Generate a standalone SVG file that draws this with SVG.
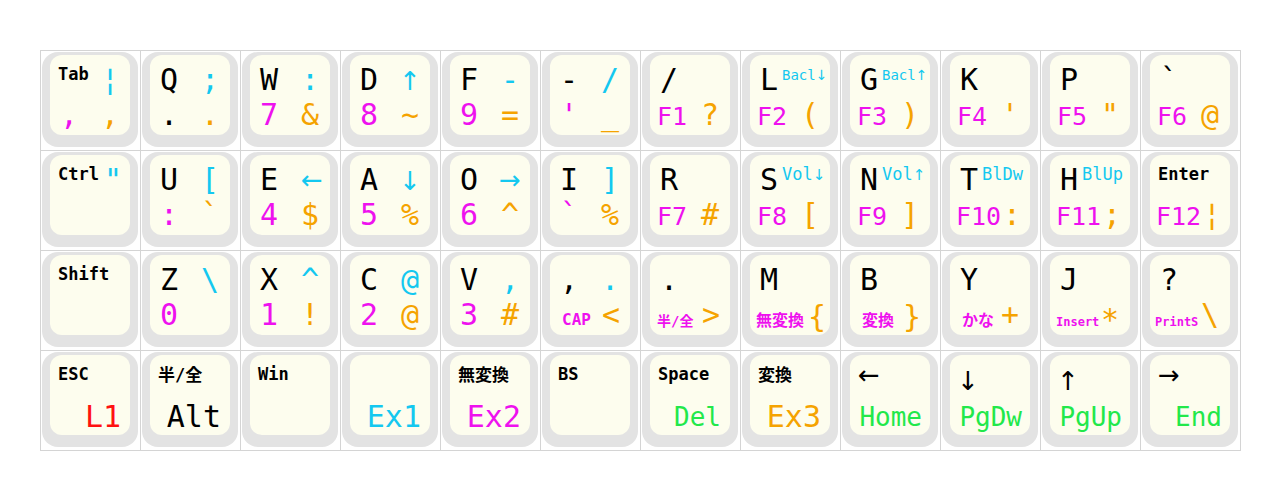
<svg xmlns="http://www.w3.org/2000/svg" xmlns:xlink="http://www.w3.org/1999/xlink" width="1280" height="500" viewBox="0 0 1280 500">
<style>
text{font-family:"DejaVu Sans Mono","Noto Sans CJK JP",monospace;}
.m{font-size:30px;fill:#000}
.tr{font-size:30px;fill:#14c8f0;text-anchor:middle}
.bl{font-size:30px;fill:#ee11ee}
.br{font-size:30px;fill:#f5a300;text-anchor:middle}
.f{font-size:25px;fill:#ee11ee}
.s{font-size:17px;font-weight:bold;fill:#000}
.sc{fill:#14c8f0}
.sm{font-weight:bold;fill:#ee11ee}
.e{font-size:30px;text-anchor:end}
.g{font-size:26px;text-anchor:end;fill:#22e84a}
.va{font-family:"DejaVu Sans",sans-serif;font-size:26px}
.grid{stroke:#d4d4d4;stroke-width:1;fill:none}
</style>
<defs>
<g id="cap">
<rect x="2" y="2" width="96" height="95" rx="16" fill="#e3e3e3"/>
<rect x="10" y="5" width="80" height="80" rx="12" fill="#fdfdee"/>
</g>
</defs>
<rect width="1280" height="500" fill="#fff"/>
<g class="grid">
<rect x="40.5" y="50.5" width="1200" height="400"/>
<path d="M140.5 50V450M240.5 50V450M340.5 50V450M440.5 50V450M540.5 50V450M640.5 50V450M740.5 50V450M840.5 50V450M940.5 50V450M1040.5 50V450M1140.5 50V450M40 150.5H1240M40 250.5H1240M40 350.5H1240"/>
</g>

<!-- Row 0 -->
<g id="k-tab" transform="translate(40,50)"><use href="#cap"/><text class="s" x="18" y="30">Tab</text><text class="tr" x="70" y="40">¦</text><text class="bl" x="20" y="75">,</text><text class="br" x="70" y="75">,</text></g>
<g id="k-q" transform="translate(140,50)"><use href="#cap"/><text class="m" x="20" y="40">Q</text><text class="tr" x="70" y="40">;</text><text class="m" x="20" y="75">.</text><text class="br" x="70" y="75">.</text></g>
<g id="k-w" transform="translate(240,50)"><use href="#cap"/><text class="m" x="20" y="40">W</text><text class="tr" x="70" y="40">:</text><text class="bl" x="20" y="75">7</text><text class="br" x="70" y="75">&amp;</text></g>
<g id="k-d" transform="translate(340,50)"><use href="#cap"/><text class="m" x="20" y="40">D</text><text class="tr va" x="70" y="40">↑</text><text class="bl" x="20" y="75">8</text><text class="br" x="70" y="75">~</text></g>
<g id="k-f" transform="translate(440,50)"><use href="#cap"/><text class="m" x="20" y="40">F</text><text class="tr" x="70" y="40">-</text><text class="bl" x="20" y="75">9</text><text class="br" x="70" y="75">=</text></g>
<g id="k-minus" transform="translate(540,50)"><use href="#cap"/><text class="m" x="20" y="40">-</text><text class="tr" x="70" y="40">/</text><text class="bl" x="20" y="75">'</text><text class="br" x="70" y="75">_</text></g>
<g id="k-slash" transform="translate(640,50)"><use href="#cap"/><text class="m" x="20" y="40">/</text><text class="f" x="17" y="75">F1</text><text class="br" x="70" y="75">?</text></g>
<g id="k-l" transform="translate(740,50)"><use href="#cap"/><text class="m" x="20" y="40">L</text><text class="sc" x="42" y="30" font-size="14">Bacl<tspan font-family="DejaVu Sans">↓</tspan></text><text class="f" x="17" y="75">F2</text><text class="br" x="70" y="75">(</text></g>
<g id="k-g" transform="translate(840,50)"><use href="#cap"/><text class="m" x="20" y="40">G</text><text class="sc" x="42" y="30" font-size="14">Bacl<tspan font-family="DejaVu Sans">↑</tspan></text><text class="f" x="17" y="75">F3</text><text class="br" x="70" y="75">)</text></g>
<g id="k-k" transform="translate(940,50)"><use href="#cap"/><text class="m" x="20" y="40">K</text><text class="f" x="17" y="75">F4</text><text class="br" x="70" y="75">'</text></g>
<g id="k-p" transform="translate(1040,50)"><use href="#cap"/><text class="m" x="20" y="40">P</text><text class="f" x="17" y="75">F5</text><text class="br" x="70" y="75">"</text></g>
<g id="k-grave" transform="translate(1140,50)"><use href="#cap"/><text class="m" x="20" y="40">`</text><text class="f" x="17" y="75">F6</text><text class="br" x="70" y="75">@</text></g>

<!-- Row 1 -->
<g id="k-ctrl" transform="translate(40,150)"><use href="#cap"/><text class="s" x="18" y="30">Ctrl</text><text class="tr" x="73" y="40">"</text></g>
<g id="k-u" transform="translate(140,150)"><use href="#cap"/><text class="m" x="20" y="40">U</text><text class="tr" x="70" y="40">[</text><text class="bl" x="20" y="75">:</text><text class="br" x="70" y="75">`</text></g>
<g id="k-e" transform="translate(240,150)"><use href="#cap"/><text class="m" x="20" y="40">E</text><text class="tr va" x="72" y="39">←</text><text class="bl" x="20" y="75">4</text><text class="br" x="70" y="75">$</text></g>
<g id="k-a" transform="translate(340,150)"><use href="#cap"/><text class="m" x="20" y="40">A</text><text class="tr va" x="70" y="40">↓</text><text class="bl" x="20" y="75">5</text><text class="br" x="70" y="75">%</text></g>
<g id="k-o" transform="translate(440,150)"><use href="#cap"/><text class="m" x="20" y="40">O</text><text class="tr va" x="70" y="39">→</text><text class="bl" x="20" y="75">6</text><text class="br" x="70" y="75">^</text></g>
<g id="k-i" transform="translate(540,150)"><use href="#cap"/><text class="m" x="20" y="40">I</text><text class="tr" x="70" y="40">]</text><text class="bl" x="20" y="75">`</text><text class="br" x="70" y="75">%</text></g>
<g id="k-r" transform="translate(640,150)"><use href="#cap"/><text class="m" x="20" y="40">R</text><text class="f" x="17" y="75">F7</text><text class="br" x="70" y="75">#</text></g>
<g id="k-s" transform="translate(740,150)"><use href="#cap"/><text class="m" x="20" y="40">S</text><text class="sc" x="42" y="30" font-size="17">Vol<tspan font-family="DejaVu Sans" font-size="15">↓</tspan></text><text class="f" x="17" y="75">F8</text><text class="br" x="70" y="75">[</text></g>
<g id="k-n" transform="translate(840,150)"><use href="#cap"/><text class="m" x="20" y="40">N</text><text class="sc" x="42" y="30" font-size="17">Vol<tspan font-family="DejaVu Sans" font-size="15">↑</tspan></text><text class="f" x="17" y="75">F9</text><text class="br" x="70" y="75">]</text></g>
<g id="k-t" transform="translate(940,150)"><use href="#cap"/><text class="m" x="20" y="40">T</text><text class="sc" x="42" y="30" font-size="17">BlDw</text><text class="f" x="16" y="75">F10</text><text class="br" x="72" y="75">:</text></g>
<g id="k-h" transform="translate(1040,150)"><use href="#cap"/><text class="m" x="20" y="40">H</text><text class="sc" x="42" y="30" font-size="17">BlUp</text><text class="f" x="16" y="75">F11</text><text class="br" x="72" y="75">;</text></g>
<g id="k-enter" transform="translate(1140,150)"><use href="#cap"/><text class="s" x="18" y="30">Enter</text><text class="f" x="16" y="75">F12</text><text class="br" x="72" y="75">¦</text></g>

<!-- Row 2 -->
<g id="k-shift" transform="translate(40,250)"><use href="#cap"/><text class="s" x="18" y="30">Shift</text></g>
<g id="k-z" transform="translate(140,250)"><use href="#cap"/><text class="m" x="20" y="40">Z</text><text class="tr" x="70" y="40">\</text><text class="bl" x="20" y="75">0</text></g>
<g id="k-x" transform="translate(240,250)"><use href="#cap"/><text class="m" x="20" y="40">X</text><text class="tr" x="70" y="40">^</text><text class="bl" x="20" y="75">1</text><text class="br" x="70" y="75">!</text></g>
<g id="k-c" transform="translate(340,250)"><use href="#cap"/><text class="m" x="20" y="40">C</text><text class="tr" x="70" y="40">@</text><text class="bl" x="20" y="75">2</text><text class="br" x="70" y="75">@</text></g>
<g id="k-v" transform="translate(440,250)"><use href="#cap"/><text class="m" x="20" y="40">V</text><text class="tr" x="70" y="40">,</text><text class="bl" x="20" y="75">3</text><text class="br" x="70" y="75">#</text></g>
<g id="k-comma" transform="translate(540,250)"><use href="#cap"/><text class="m" x="20" y="40">,</text><text class="tr" x="70" y="40">.</text><text class="sm" x="22" y="75" font-size="16">CAP</text><text class="br" x="71" y="75" font-size="33">&lt;</text></g>
<g id="k-period" transform="translate(640,250)"><use href="#cap"/><text class="m" x="20" y="40">.</text><text class="sm" x="17" y="76" font-size="14">半/全</text><text class="br" x="71" y="75" font-size="33">&gt;</text></g>
<g id="k-m" transform="translate(740,250)"><use href="#cap"/><text class="m" x="20" y="40">M</text><text class="sm" x="16" y="76" font-size="16">無変換</text><text class="br" x="77" y="77" font-size="34">{</text></g>
<g id="k-b" transform="translate(840,250)"><use href="#cap"/><text class="m" x="20" y="40">B</text><text class="sm" x="22" y="76" font-size="16">変換</text><text class="br" x="72" y="77" font-size="34">}</text></g>
<g id="k-y" transform="translate(940,250)"><use href="#cap"/><text class="m" x="20" y="40">Y</text><text class="sm" x="22" y="76" font-size="16">かな</text><text class="br" x="70" y="75">+</text></g>
<g id="k-j" transform="translate(1040,250)"><use href="#cap"/><text class="m" x="20" y="40">J</text><text class="sm" x="16" y="76" font-size="12">Insert</text><text class="br" x="70" y="80">*</text></g>
<g id="k-question" transform="translate(1140,250)"><use href="#cap"/><text class="m" x="20" y="40">?</text><text class="sm" x="15" y="76" font-size="12">PrintS</text><text class="br" x="70" y="75">\</text></g>

<!-- Row 3 -->
<g id="k-esc" transform="translate(40,350)"><use href="#cap"/><text class="s" x="18" y="30">ESC</text><text class="e" x="81" y="77" fill="#ff1111">L1</text></g>
<g id="k-hankaku" transform="translate(140,350)"><use href="#cap"/><text class="s" x="18" y="31" font-size="19">半/全</text><text class="e" x="81" y="77" fill="#000">Alt</text></g>
<g id="k-win" transform="translate(240,350)"><use href="#cap"/><text class="s" x="18" y="30">Win</text></g>
<g id="k-ex1" transform="translate(340,350)"><use href="#cap"/><text class="e" x="81" y="77" fill="#14c8f0">Ex1</text></g>
<g id="k-muhenkan" transform="translate(440,350)"><use href="#cap"/><text class="s" x="18" y="31" font-size="20">無変換</text><text class="e" x="81" y="77" fill="#ee11ee">Ex2</text></g>
<g id="k-bs" transform="translate(540,350)"><use href="#cap"/><text class="s" x="18" y="30">BS</text></g>
<g id="k-space" transform="translate(640,350)"><use href="#cap"/><text class="s" x="18" y="30">Space</text><text class="g" x="81" y="76">Del</text></g>
<g id="k-henkan" transform="translate(740,350)"><use href="#cap"/><text class="s" x="18" y="31" font-size="20">変換</text><text class="e" x="81" y="77" fill="#f5a300">Ex3</text></g>
<g id="k-left" transform="translate(840,350)"><use href="#cap"/><text class="m va" x="29" y="34" text-anchor="middle">←</text><text class="g" x="82" y="76">Home</text></g>
<g id="k-down" transform="translate(940,350)"><use href="#cap"/><text class="m va" x="28" y="40" text-anchor="middle">↓</text><text class="g" x="82" y="76">PgDw</text></g>
<g id="k-up" transform="translate(1040,350)"><use href="#cap"/><text class="m va" x="28" y="40" text-anchor="middle">↑</text><text class="g" x="82" y="76">PgUp</text></g>
<g id="k-right" transform="translate(1140,350)"><use href="#cap"/><text class="m va" x="29" y="34" text-anchor="middle">→</text><text class="g" x="82" y="76">End</text></g>
</svg>
